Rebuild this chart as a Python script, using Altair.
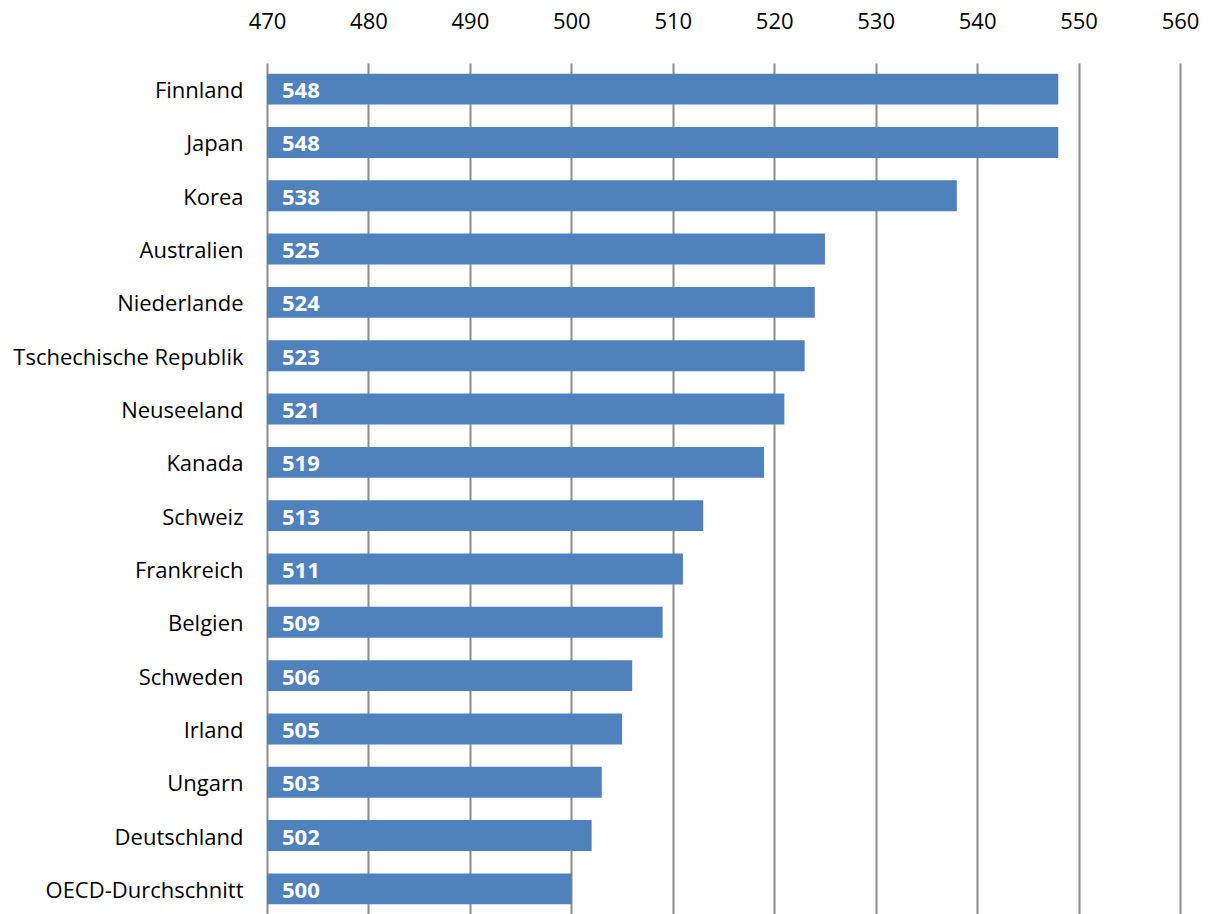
import altair as alt
import pandas as pd

countries = ["Finnland", "Japan", "Korea", "Australien", "Niederlande",
             "Tschechische Republik", "Neuseeland", "Kanada", "Schweiz",
             "Frankreich", "Belgien", "Schweden", "Irland", "Ungarn\u00a0",
             "Deutschland", "OECD-Durchschnitt"]
scores = [548, 548, 538, 525, 524, 523, 521, 519, 513, 511, 509, 506, 505, 503, 502, 500]
x_ticks = [470, 480, 490, 500, 510, 520, 530, 540, 550, 560]
baseline = 470

df = pd.DataFrame({"land": countries, "wert": scores})

FONT = "Open Sans"

y_enc = alt.Y("land:N", sort=countries, title=None,
              scale=alt.Scale(paddingInner=0.42, paddingOuter=0.2),
              axis=alt.Axis(labelFont=FONT, labelFontSize=22, labelColor="#000000",
                            ticks=False, domain=False, labelPadding=24, grid=False,
                            labelOffset=2, labelLimit=400))
x_scale = alt.Scale(domain=[470, 560], zero=False, nice=False)

bars = alt.Chart(df).mark_bar(color="#4F81BD").encode(
    x=alt.X("wert:Q", scale=x_scale, title=None,
            axis=alt.Axis(orient="top", values=x_ticks, format="d", labelFont=FONT,
                          labelFontSize=22, labelColor="#000000", ticks=False,
                          domain=False, labelPadding=30, grid=True, labelFlush=False,
                          labelOverlap=False,
                          gridColor="#8c8c8c", gridWidth=2, gridOpacity=1)),
    x2=alt.datum(baseline),
    y=y_enc,
)

labels = alt.Chart(df).mark_text(align="left", baseline="middle", dx=15, dy=2,
                                 color="white", font=FONT, fontWeight="bold",
                                 fontSize=22).encode(
    x=alt.X("base:Q", scale=x_scale),
    y=alt.Y("land:N", sort=countries),
    text=alt.Text("wert:Q"),
).transform_calculate(base=str(baseline))

chart = alt.layer(bars, labels).properties(
    width=913, height=852,
    padding={"left": 267, "top": 63, "right": 30, "bottom": 0},
    autosize=alt.AutoSizeParams(type="none"),
    background="white",
).configure_view(stroke=None)

chart.save("out.html", embed_options={"renderer": "svg", "actions": False})
